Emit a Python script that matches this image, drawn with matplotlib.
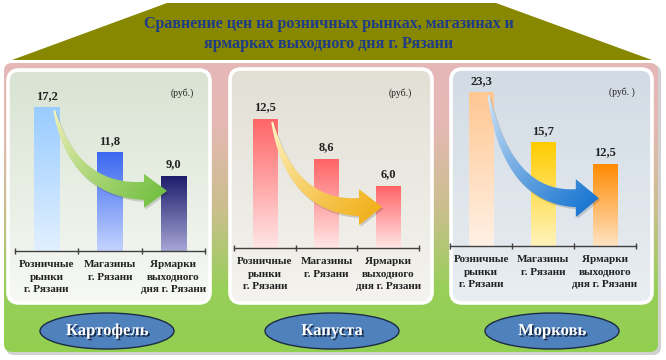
import numpy as np
import matplotlib
matplotlib.use("Agg")
import matplotlib.pyplot as plt
from matplotlib.patches import FancyBboxPatch, Polygon, Ellipse
from matplotlib.colors import LinearSegmentedColormap, to_rgb
import matplotlib.patheffects as pe

# ---------------- data ----------------
TITLE = "Сравнение цен на розничных рынках, магазинах и\nярмарках выходного дня г. Рязани"
CATEGORIES = ["Розничные\nрынки\nг. Рязани", "Магазины\nг. Рязани", "Ярмарки\nвыходного\nдня г. Рязани"]
PRODUCTS = ["Картофель", "Капуста", "Морковь"]
POTATO = [17.2, 11.8, 9.0]
CABBAGE = [12.5, 8.6, 6.0]
CARROT = [23.3, 15.7, 12.5]
UNITS = ["(руб.)", "(руб.)", "(руб. )"]
SERIES = [POTATO, CABBAGE, CARROT]

# ---------------- styling ----------------
W, H = 666, 360
FONT = "Liberation Serif"
plt.rcParams["font.family"] = [FONT, "DejaVu Serif"]

# panel boxes (x, y_top, w, h) in pixels
PANEL_BOX = [(8, 70, 202, 233), (230, 69, 202, 234), (451, 69, 201, 234)]
PANEL_TOP = ["#D8E3D2", "#E2E0D5", "#D2DBE4"]
PANEL_BOT = ["#F7F9F5", "#F4F3EF", "#E9EEF2"]
# bar axes (x_left, x_right, y_bottom, y_top) in pixels and y-limit
AX_BOX = [(15, 205, 251, 84), (234, 419, 248, 93), (450, 636, 246, 81)]
YMAX = [20, 15, 25]
BAR_TOP = [["#99CCFF", "#3A68F0", "#1B1B6A"],
           ["#FF6466", "#FF6466", "#FF6466"],
           ["#FFC792", "#FFCC00", "#FF8A00"]]
BAR_BOT = [["#E2F0FF", "#C4D3FF", "#A6A6D6"],
           ["#FFE6E6", "#FFE6E6", "#FFE6E6"],
           ["#FFF1E6", "#FFF3BC", "#FFE3C2"]]
ARROW_C0 = ["#F6F3BE", "#FFF7CC", "#DDECF8"]
ARROW_C1 = ["#74C043", "#F2B01A", "#1A76D2"]
ARROW_TIP = [0.8, 0.66, 0.58]
ARROW_HEAD = [17, 18, 19]
UNIT_POS = [(182, 93), (400, 93), (622, 92)]
ELLIPSE_C = [(107, 331), (332, 331), (552, 331)]

fig = plt.figure(figsize=(W / 100, H / 100), dpi=100)
bg = fig.add_axes([0, 0, 1, 1])
bg.set_autoscale_on(False)
bg.set_xlim(0, W)
bg.set_ylim(H, 0)
bg.axis("off")


def vgradient(ax, extent, c_top, c_bot, clip, zorder=1):
    cmap = LinearSegmentedColormap.from_list("g", [c_bot, c_top])
    img = np.linspace(0, 1, 256).reshape(-1, 1)
    im = ax.imshow(img, cmap=cmap, extent=extent, origin="lower",
                   aspect="auto", interpolation="bilinear", zorder=zorder)
    im.set_clip_path(clip)
    return im


# roof with the title
roof = Polygon([(167, 3), (496, 3), (652, 60), (12, 60)], closed=True,
               facecolor="#878700", edgecolor="none", zorder=1)
bg.add_patch(roof)
bg.text(329, 34, TITLE, ha="center", va="center", fontsize=11.5,
        fontweight="bold", color="#1F3C86", linespacing=1.25, zorder=5)

# main pink-to-green board
shadow = FancyBboxPatch((6, 65), 655, 290, boxstyle="round,pad=0,rounding_size=8",
                        facecolor="#000000", alpha=0.18, edgecolor="none", zorder=1)
bg.add_patch(shadow)
board = FancyBboxPatch((4, 63), 654, 289, boxstyle="round,pad=0,rounding_size=8",
                       facecolor="none", edgecolor="none", zorder=2)
bg.add_patch(board)
cmap_board = LinearSegmentedColormap.from_list(
    "b", [(0.0, "#92D050"), (0.22, "#98CF5A"), (0.5, "#CBBE8E"), (0.8, "#E5B8B6"), (1.0, "#E6B9B8")])
im = bg.imshow(np.linspace(0, 1, 256).reshape(-1, 1), cmap=cmap_board,
               extent=(4, 658, 352, 63), origin="lower", aspect="auto",
               interpolation="bilinear", zorder=2)
im.set_clip_path(board)

# white panels
for (x, y, w, h), ct, cb in zip(PANEL_BOX, PANEL_TOP, PANEL_BOT):
    p = FancyBboxPatch((x, y), w, h, boxstyle="round,pad=0,rounding_size=11",
                       facecolor="none", edgecolor="none", zorder=3)
    bg.add_patch(p)
    vgradient(bg, (x, x + w, y + h, y), ct, cb, p, zorder=3)
    bg.add_patch(FancyBboxPatch((x, y), w, h, boxstyle="round,pad=0,rounding_size=11",
                                facecolor="none", edgecolor="white", lw=2.6, zorder=4))

# product ellipses
for (cx, cy), name in zip(ELLIPSE_C, PRODUCTS):
    bg.add_patch(Ellipse((cx, cy), 134, 36, facecolor="#4F81BD",
                         edgecolor="#1C2B45", lw=1.0, zorder=4))
    bg.text(cx, cy, name, ha="center", va="center", fontsize=12, fontweight="bold",
            color="white", zorder=5,
            path_effects=[pe.withSimplePatchShadow(offset=(1.2, -1.2),
                                                   shadow_rgbFace="#10203A", alpha=0.9)])

# unit labels
for (ux, uy), u in zip(UNIT_POS, UNITS):
    bg.text(ux, uy, u, ha="center", va="center", fontsize=7, color="#222222", zorder=5)


def draw_arrow(ax, vals, tip_frac, c0, c1, head_half):
    tr = ax.transData
    S = tr.transform((0.12, vals[0])) + np.array([0.0, -3.0])
    T = tr.transform((1.9, vals[2] * tip_frac))
    head_len, body_half = 23.0, 9.0
    B = T - np.array([head_len, 0.0])
    C = np.array([S[0] + 0.22 * (B[0] - S[0]), B[1]])
    t = np.linspace(0, 1, 80)[:, None]
    P = (1 - t) ** 2 * S + 2 * (1 - t) * t * C + t ** 2 * B
    dP = 2 * (1 - t) * (C - S) + 2 * t * (B - C)
    nrm = np.column_stack([-dP[:, 1], dP[:, 0]])
    nrm /= np.linalg.norm(nrm, axis=1, keepdims=True)
    wid = (1.0 + (body_half - 1.0) * t[:, 0] ** 0.9)[:, None]
    upper = P + nrm * wid
    lower = P - nrm * wid
    head = np.array([[B[0], B[1] + head_half], T, [B[0], B[1] - head_half]])
    pts = np.vstack([upper, head, lower[::-1]])
    inv = tr.inverted()

    sh = Polygon(inv.transform(pts + np.array([1.5, -2.0])), closed=True,
                 facecolor="#000000", alpha=0.15, edgecolor="none", zorder=4, clip_on=False)
    ax.add_patch(sh)
    poly = Polygon(inv.transform(pts), closed=True, facecolor="none",
                   edgecolor="none", zorder=5, clip_on=False)
    ax.add_patch(poly)

    x0, y0 = pts.min(axis=0)
    x1, y1 = pts.max(axis=0)
    gx, gy = np.meshgrid(np.linspace(x0, x1, 160), np.linspace(y0, y1, 160))
    d = T - S
    s = ((gx - S[0]) * d[0] + (gy - S[1]) * d[1]) / (d @ d)
    s = np.clip(s, 0, 1)[..., None] ** 0.8
    rgb = (1 - s) * np.array(to_rgb(c0)) + s * np.array(to_rgb(c1))
    (dx0, dy0), (dx1, dy1) = inv.transform([(x0, y0), (x1, y1)])
    im = ax.imshow(rgb, extent=(dx0, dx1, dy0, dy1), origin="lower", aspect="auto",
                   interpolation="bilinear", zorder=5, clip_on=True)
    im.set_clip_path(poly)


x = np.arange(len(CATEGORIES))
for k, vals in enumerate(SERIES):
    xl, xr, yb, yt = AX_BOX[k]
    ax = fig.add_axes([xl / W, (H - yb) / H, (xr - xl) / W, (yb - yt) / H])
    ax.patch.set_visible(False)
    ax.set_autoscale_on(False)
    ax.set_xlim(-0.5, 2.5)
    ax.set_ylim(0, YMAX[k])
    bars = ax.bar(x, vals, width=0.4, color="none", edgecolor="none", zorder=2)
    for j, rect in enumerate(bars):
        bx, bw, bh = rect.get_x(), rect.get_width(), rect.get_height()
        vgradient(ax, (bx, bx + bw, 0, bh), BAR_TOP[k][j], BAR_BOT[k][j], rect, zorder=2)
        ax.annotate(f"{vals[j]:.1f}".replace(".", ","), (x[j], vals[j]),
                    xytext=(0, 4), textcoords="offset points", ha="center", va="bottom",
                    fontsize=9, fontweight="bold", color="#222222")
    draw_arrow(ax, vals, ARROW_TIP[k], ARROW_C0[k], ARROW_C1[k], ARROW_HEAD[k])

    for sp in ("top", "right", "left"):
        ax.spines[sp].set_visible(False)
    ax.spines["bottom"].set_color("#404040")
    ax.spines["bottom"].set_linewidth(1.0)
    ax.set_yticks([])
    ax.set_xticks(x)
    ax.set_xticklabels(CATEGORIES, fontsize=8, fontweight="bold",
                       color="#222222", linespacing=1.5)
    ax.tick_params(axis="x", which="major", length=0, pad=6.5)
    ax.set_xticks([-0.5, 0.5, 1.5, 2.5], minor=True)
    ax.tick_params(axis="x", which="minor", length=5, width=1.0,
                   direction="inout", color="#404040")

fig.savefig("out.png", dpi=100)
